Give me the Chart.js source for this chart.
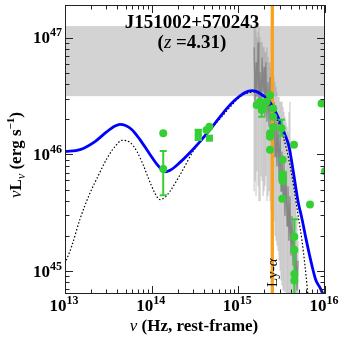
<!DOCTYPE html>
<html><head><meta charset="utf-8">
<script src="https://cdn.jsdelivr.net/npm/chart.js@4.4.0/dist/chart.umd.min.js"></script>
<style>html,body{margin:0;padding:0;background:#fff}canvas{display:block}</style>
</head><body>
<canvas id="c" width="348" height="342"></canvas>
<script>
// ---- axes / annotations ----
const xTickExps = [13, 14, 15, 16];
const yTickExps = [45, 46, 47];
const xMin = 1e13, xMax = 1e16;
const yMin = 6.37e44, yMax = 1.91e47;
const bandLo = 3.16e46, bandHi = 1.26e47;
const lyaNu = 2.466e15;
const titleName = 'J151002+570243';
const redshift = '4.31';
const xTitle = ' (Hz, rest-frame)';

// ---- total model (blue) ----
const modelNu = [1e13,1.49e13,2.22e13,3.05e13,3.78e13,4.31e13,4.92e13,5.93e13,7.33e13,9.57e13,1.18e14,1.43e14,1.63e14,2.12e14,2.77e14,3.61e14,4.71e14,6.14e14,8.01e14,1.045e15,1.29e15,1.44e15,1.60e15,1.88e15,2.14e15,2.51e15,3.03e15,3.45e15,3.84e15,4.27e15,4.88e15,5.43e15,6.04e15,7.08e15,7.87e15,8.75e15,9.73e15];
const modelL  = [1.06e46,1.10e46,1.29e46,1.57e46,1.75e46,1.81e46,1.78e46,1.63e46,1.34e46,1.0e46,8.06e45,7.10e45,7.31e45,8.55e45,1.04e46,1.29e46,1.63e46,2.10e46,2.66e46,3.18e46,3.47e46,3.52e46,3.47e46,3.24e46,3.00e46,2.56e46,1.91e46,1.48e46,1.17e46,7.45e45,3.98e45,2.80e45,1.89e45,1.11e45,8.3e44,7.24e44,6.07e44];

// ---- component model (dotted) ----
const compNu = [1e13,1.20e13,1.49e13,1.94e13,2.34e13,3.05e13,3.78e13,4.55e13,5.62e13,6.77e13,7.94e13,9.08e13,1.09e14,1.25e14,1.43e14,1.63e14,2.24e14,3.00e14,3.91e14,4.97e14,6.14e14,8.01e14,1.045e15,1.36e15,1.60e15,1.88e15,2.32e15,3.03e15,3.65e15,4.16e15,4.62e15,5.01e15,5.43e15,5.88e15,6.20e15,6.37e15];
const compL  = [1.16e45,1.65e45,2.80e45,4.66e45,6.25e45,9.25e45,1.17e46,1.32e46,1.27e46,1.06e46,8.22e45,6.37e45,4.66e45,4.10e45,4.31e45,4.84e45,7.17e45,1.06e46,1.37e46,1.70e46,2.02e46,2.54e46,3.12e46,3.40e46,3.44e46,3.18e46,2.61e46,1.73e46,1.06e46,6.50e45,3.98e45,2.69e45,1.82e45,1.11e45,7.53e44,6.07e44];

// ---- spectrum (gray) ----
const specNu   = [1.52e15,1.56e15,1.60e15,1.64e15,1.69e15,1.73e15,1.78e15,1.83e15,1.88e15,1.93e15,1.98e15,2.03e15,2.08e15,2.14e15,2.20e15,2.26e15,2.32e15,2.38e15,2.44e15,2.51e15,2.58e15,2.65e15,2.72e15,2.79e15,2.87e15,2.95e15,3.03e15,3.11e15,3.19e15,3.28e15,3.36e15,3.45e15,3.55e15,3.65e15,3.74e15,3.84e15,3.94e15,4.05e15,4.16e15,4.27e15,4.39e15,4.51e15,4.62e15,4.75e15,4.88e15];
const specFlux = [8.30e46,2.83e46,6.18e46,3.12e46,9.16e46,2.56e46,5.08e46,2.32e46,6.82e46,3.44e46,5.61e46,2.11e46,6.18e46,1.91e46,4.18e46,1.73e46,4.61e46,1.42e46,3.12e46,1.17e46,2.83e46,9.6e45,2.32e46,7.90e45,1.91e46,5.89e45,1.57e46,4.84e45,1.06e46,3.98e45,8.71e45,2.97e45,7.17e45,2.44e45,5.35e45,1.82e45,4.39e45,1.36e45,2.97e45,1.11e45,2.22e45,8.3e44,1.65e45,6.82e44,1.23e45];
const specHi   = [1.23e47,1.30e47,1.16e47,1.01e47,1.11e47,1.23e47,1.01e47,9.16e46,9.16e46,8.30e46,8.30e46,7.53e46,7.53e46,8.30e46,6.82e46,6.18e46,6.18e46,5.61e46,5.08e46,5.08e46,4.61e46,4.18e46,3.79e46,3.44e46,3.12e46,3.12e46,2.83e46,2.83e46,2.83e46,2.56e46,2.32e46,2.11e46,1.91e46,1.73e46,1.57e46,2.32e46,2.83e46,1.29e46,8.71e45,7.17e45,5.89e45,4.84e45,3.98e45,2.97e45,1.82e45];
const specLo   = [4.84e45,5.89e45,4.39e45,7.17e45,5.35e45,3.98e45,3.98e45,6.50e45,5.89e45,4.39e45,4.84e45,5.35e45,6.50e45,3.98e45,4.39e45,4.84e45,3.98e45,3.27e45,3.27e45,2.69e45,2.69e45,2.01e45,1.82e45,1.65e45,1.49e45,1.23e45,1.01e45,8.3e44,7.53e44,6.82e44,6.82e44,6.56e44,6.56e44,6.0e44,6.0e44,6.0e44,6.0e44,6.0e44,6.0e44,6.0e44,6.0e44,6.0e44,6.0e44,6.0e44,6.0e44];

// ---- photometry: circles ----
const photNu = [1.36e14,1.36e14,4.30e14,4.64e14,1.63e15,1.78e15,1.86e15,1.94e15,2.12e15,2.32e15,2.53e15,2.53e15,2.32e15,2.32e15,2.53e15,3.16e15,2.32e15,4.39e15,3.25e15,3.25e15,3.25e15,3.25e15,3.21e15,6.71e15,9.12e15,1.0e16,4.43e15,4.43e15,4.43e15,4.43e15];
const photL  = [1.52e46,7.5e45,1.62e46,1.73e46,2.65e46,2.83e46,2.40e46,2.48e46,2.83e46,3.22e46,2.48e46,2.10e46,1.52e46,1.42e46,1.71e46,1.68e46,1.10e46,1.21e46,9.0e45,6.8e45,6.28e45,5.89e45,4.18e45,3.73e45,2.73e46,7.17e45,1.97e45,1.52e45,9.46e44,8.3e44];
const photLo = [null,4.48e45,null,null,null,null,2.11e46,null,null,null,null,null,null,null,null,1.45e46,null,null,null,null,null,null,null,null,null,null,6.0e44,null,null,null];
const photHi = [null,1.07e46,null,null,null,null,2.70e46,null,null,null,null,null,null,null,null,1.98e46,null,null,null,null,null,null,null,null,null,null,2.78e45,null,null,null];

// ---- photometry: squares ----
const sqNu = [3.45e14,3.45e14,4.64e14];
const sqL  = [1.54e46,1.40e46,1.38e46];
const sqLo = [1.34e46,null,null];
const sqHi = [1.63e46,null,null];

const GREEN = '#35cf35';
const SERIF = '"Liberation Serif", "DejaVu Serif", serif';

const pts = (xs, ys) => xs.map((x, i) => ({x, y: ys[i]}));
const segs = (xs, lo, hi) => xs.flatMap((x, i) => [{x, y: lo[i]}, {x, y: hi[i]}, {x, y: null}]);

function rich(ctx, parts, x, y, align) {
  let w = 0;
  for (const s of parts) { ctx.font = s.f; s.w = ctx.measureText(s.t).width; w += s.w; }
  let cx = align === 'center' ? x - w / 2 : align === 'right' ? x - w : x;
  ctx.textAlign = 'left'; ctx.textBaseline = 'alphabetic';
  for (const s of parts) { ctx.font = s.f; ctx.fillText(s.t, cx, y + (s.dy || 0)); cx += s.w; }
}

const decor = {
  id: 'decor',
  beforeDatasetsDraw(chart) {
    const {ctx, chartArea: a, scales: {x, y}} = chart;
    const yt = y.getPixelForValue(bandHi), yb = y.getPixelForValue(bandLo);
    ctx.save();
    ctx.fillStyle = '#d3d3d3';
    ctx.fillRect(a.left, yt, a.right - a.left, yb - yt);
    ctx.restore();
  },
  afterDatasetsDraw(chart) {
    const {ctx, chartArea: a, scales: {x, y}} = chart;
    ctx.save();
    ctx.beginPath(); ctx.rect(a.left, a.top, a.right - a.left, a.bottom - a.top); ctx.clip();
    ctx.strokeStyle = GREEN; ctx.lineWidth = 2;
    const draw = (nu, lo, hi) => nu.forEach((n, i) => {
      if (lo[i] == null) return;
      const px = x.getPixelForValue(n), p1 = y.getPixelForValue(lo[i]), p2 = y.getPixelForValue(hi[i]);
      ctx.beginPath();
      ctx.moveTo(px, p1); ctx.lineTo(px, p2);
      ctx.moveTo(px - 3.5, p1); ctx.lineTo(px + 3.5, p1);
      ctx.moveTo(px - 3.5, p2); ctx.lineTo(px + 3.5, p2);
      ctx.stroke();
    });
    draw(photNu, photLo, photHi);
    draw(sqNu, sqLo, sqHi);
    ctx.restore();
  },
  afterDraw(chart) {
    const {ctx, chartArea: a, scales: {x, y}} = chart;
    ctx.save();
    ctx.strokeStyle = '#222'; ctx.lineWidth = 1;
    ctx.strokeRect(a.left + 0.5, a.top + 0.5, a.right - a.left - 1, a.bottom - a.top - 1);
    ctx.beginPath();
    const xt = (v, len) => { const p = Math.round(x.getPixelForValue(v)) + 0.5;
      ctx.moveTo(p, a.bottom); ctx.lineTo(p, a.bottom - len); ctx.moveTo(p, a.top); ctx.lineTo(p, a.top + len); };
    const yt = (v, len) => { const p = Math.round(y.getPixelForValue(v)) + 0.5;
      ctx.moveTo(a.left, p); ctx.lineTo(a.left + len, p); ctx.moveTo(a.right, p); ctx.lineTo(a.right - len, p); };
    for (let d = 13; d <= 16; d++) {
      if (Math.pow(10, d) >= xMin && Math.pow(10, d) <= xMax) xt(Math.pow(10, d), 8);
      for (let k = 2; k <= 9; k++) { const v = k * Math.pow(10, d); if (v > xMin && v < xMax) xt(v, 4.5); }
    }
    for (let d = 44; d <= 47; d++) {
      const v0 = Math.pow(10, d); if (v0 > yMin && v0 < yMax) yt(v0, 8);
      for (let k = 2; k <= 9; k++) { const v = k * v0; if (v > yMin && v < yMax) yt(v, 4.5); }
    }
    ctx.stroke();
    ctx.fillStyle = '#000';
    const big = 'bold 17px ' + SERIF, sup = 'bold 12px ' + SERIF;
    xTickExps.forEach(e => {
      const p = x.getPixelForValue(Math.pow(10, e));
      rich(ctx, [{t: '10', f: big}, {t: String(e), f: sup, dy: -7}], p - 1, 311, 'center');
    });
    yTickExps.forEach(e => {
      const p = y.getPixelForValue(Math.pow(10, e));
      rich(ctx, [{t: '10', f: big}, {t: String(e), f: sup, dy: -7}], 62, p + 5.5, 'right');
    });
    rich(ctx, [{t: 'ν', f: 'italic 17px ' + SERIF}, {t: xTitle, f: 'bold 17px ' + SERIF}], 194, 331, 'center');
    ctx.save();
    ctx.translate(21, 155); ctx.rotate(-Math.PI / 2);
    rich(ctx, [{t: 'ν', f: 'italic 17px ' + SERIF}, {t: 'L', f: 'bold 17px ' + SERIF},
      {t: 'ν', f: 'italic 12px ' + SERIF, dy: 4}, {t: ' (erg s', f: 'bold 17px ' + SERIF},
      {t: '−1', f: 'bold 11px ' + SERIF, dy: -7}, {t: ')', f: 'bold 17px ' + SERIF}], 0, 0, 'center');
    ctx.restore();
    rich(ctx, [{t: titleName, f: 'bold 19px ' + SERIF}], 192, 28, 'center');
    rich(ctx, [{t: '(', f: 'bold 19px ' + SERIF}, {t: 'z', f: 'italic 19px ' + SERIF},
      {t: ' =' + redshift + ')', f: 'bold 19px ' + SERIF}], 192, 48, 'center');
    ctx.save();
    ctx.translate(x.getPixelForValue(lyaNu) + 5, 287); ctx.rotate(-Math.PI / 2);
    rich(ctx, [{t: 'Ly-', f: '15px ' + SERIF}, {t: 'α', f: 'italic 15px ' + SERIF}], 0, 0, 'left');
    ctx.restore();
    ctx.restore();
  }
};

new Chart(document.getElementById('c'), {
  type: 'scatter',
  data: {
    datasets: [
      { data: pts(photNu, photL), pointRadius: 4, pointBackgroundColor: GREEN, pointBorderWidth: 0, showLine: false, order: 0 },
      { data: pts(sqNu, sqL), pointStyle: 'rect', pointRadius: 5, pointBackgroundColor: GREEN, pointBorderWidth: 0, showLine: false, order: 0 },
      { data: pts(modelNu, modelL), showLine: true, borderColor: '#0000ff', borderWidth: 2.8, pointRadius: 0, cubicInterpolationMode: 'monotone', order: 1 },
      { data: pts(compNu, compL), showLine: true, borderColor: '#000', borderWidth: 1.2, borderDash: [1.5, 2], pointRadius: 0, cubicInterpolationMode: 'monotone', order: 2 },
      { data: [{x: lyaNu, y: yMin}, {x: lyaNu, y: yMax}], showLine: true, borderColor: '#f7a21b', borderWidth: 3.3, pointRadius: 0, order: 3 },
      { data: pts(specNu, specFlux), showLine: true, borderColor: '#858585', borderWidth: 1.2, pointRadius: 0, order: 4 },
      { data: segs(specNu, specLo, specHi), showLine: true, spanGaps: false, borderColor: 'rgba(150,150,150,0.55)', borderWidth: 1, pointRadius: 0, order: 5 }
    ]
  },
  options: {
    responsive: false, animation: false, devicePixelRatio: 1,
    layout: { padding: { left: 65, right: 23, top: 3, bottom: 48 } },
    plugins: { legend: { display: false }, tooltip: { enabled: false } },
    scales: {
      x: { type: 'logarithmic', min: xMin, max: xMax, display: false },
      y: { type: 'logarithmic', min: yMin, max: yMax, display: false }
    }
  },
  plugins: [decor]
});
</script>
</body></html>
